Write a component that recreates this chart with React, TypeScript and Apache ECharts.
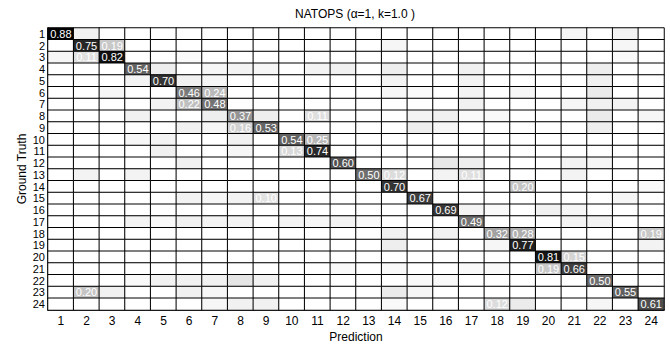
import React, { useEffect, useRef } from "react";
import * as echarts from "echarts";

const classLabels = ["1","2","3","4","5","6","7","8","9","10","11","12","13","14","15","16","17","18","19","20","21","22","23","24"];

// rows = ground truth, columns = prediction
const truthRows: number[][] = [
  //1    2    3    4    5    6    7    8    9    10   11   12   13   14   15   16   17   18   19   20   21   22   23   24
  [0.88,0.05,0,   0,   0,   0,   0,   0,   0,   0,   0,   0,   0,   0,   0,   0,   0,   0,   0,   0,   0.03,0,   0.04,0   ],
  [0,   0.75,0.19,0,   0,   0,   0,   0,   0,   0,   0,   0,   0,   0.03,0,   0,   0,   0,   0,   0,   0,   0,   0.03,0   ],
  [0.03,0.11,0.82,0,   0,   0.02,0,   0,   0,   0,   0,   0,   0,   0,   0,   0,   0,   0,   0,   0,   0,   0,   0.02,0   ],
  [0,   0,   0,   0.54,0.06,0,   0.03,0.04,0.03,0,   0.04,0.05,0,   0.06,0,   0,   0.05,0,   0,   0,   0,   0.06,0,   0   ],
  [0,   0,   0,   0.04,0.70,0.05,0.03,0,   0,   0,   0,   0,   0,   0.04,0,   0,   0.04,0,   0,   0,   0,   0.05,0,   0   ],
  [0,   0,   0.03,0,   0,   0.46,0.24,0,   0,   0,   0,   0,   0,   0.03,0.02,0,   0.04,0,   0.03,0,   0,   0.07,0,   0   ],
  [0,   0,   0,   0,   0.04,0.22,0.48,0,   0,   0,   0,   0,   0,   0,   0,   0,   0.05,0,   0,   0,   0.03,0.05,0.04,0   ],
  [0,   0,   0,   0.05,0,   0,   0.06,0.37,0.06,0,   0.11,0,   0,   0,   0.04,0.05,0.02,0.02,0,   0,   0,   0.07,0,   0.03],
  [0,   0,   0,   0,   0,   0.05,0.03,0.16,0.53,0,   0,   0,   0,   0,   0.06,0.03,0,   0,   0,   0,   0,   0.06,0,   0   ],
  [0,   0,   0,   0.03,0.04,0,   0,   0.05,0,   0.54,0.25,0,   0,   0,   0,   0,   0,   0,   0,   0,   0,   0,   0,   0   ],
  [0,   0,   0,   0,   0.05,0,   0,   0.03,0,   0.13,0.74,0,   0,   0,   0,   0,   0,   0,   0,   0,   0,   0,   0,   0   ],
  [0,   0,   0,   0,   0,   0.05,0,   0,   0,   0,   0,   0.60,0,   0,   0,   0.08,0.06,0,   0,   0,   0.04,0.03,0,   0   ],
  [0,   0.04,0,   0.04,0,   0,   0,   0,   0,   0,   0,   0,   0.50,0.12,0,   0.04,0.11,0,   0,   0,   0.04,0,   0,   0   ],
  [0,   0,   0,   0,   0,   0,   0,   0,   0,   0,   0,   0,   0,   0.70,0,   0,   0,   0,   0.20,0,   0,   0,   0,   0.02],
  [0,   0,   0,   0,   0,   0.04,0.03,0.04,0.10,0,   0,   0,   0,   0,   0.67,0,   0,   0,   0,   0,   0,   0,   0.03,0   ],
  [0,   0,   0,   0,   0,   0,   0,   0,   0,   0,   0,   0,   0,   0,   0,   0.69,0.04,0.02,0,   0.05,0.03,0,   0,   0   ],
  [0,   0,   0,   0.04,0.02,0.05,0.04,0.04,0,   0.04,0.03,0.04,0.02,0,   0,   0,   0.49,0,   0,   0,   0.04,0.04,0,   0   ],
  [0,   0,   0,   0,   0,   0,   0,   0,   0,   0,   0,   0,   0,   0.05,0,   0.05,0,   0.32,0.28,0,   0,   0,   0,   0.19],
  [0,   0,   0,   0,   0,   0,   0,   0,   0,   0,   0,   0,   0,   0.06,0,   0,   0,   0.03,0.77,0,   0,   0,   0,   0.04],
  [0,   0,   0,   0,   0,   0,   0,   0,   0,   0,   0,   0,   0,   0,   0,   0,   0,   0,   0,   0.81,0.15,0,   0,   0   ],
  [0,   0,   0,   0,   0,   0,   0,   0,   0,   0,   0,   0.02,0,   0.02,0,   0,   0.02,0.02,0,   0.19,0.66,0,   0,   0   ],
  [0,   0,   0,   0.02,0.05,0.05,0.05,0.09,0.05,0,   0,   0,   0,   0,   0.02,0.02,0,   0,   0,   0,   0,   0.50,0,   0   ],
  [0,   0.20,0.05,0,   0,   0.05,0.03,0,   0,   0,   0,   0,   0,   0.07,0.03,0,   0,   0,   0,   0,   0,   0,   0.55,0   ],
  [0,   0,   0,   0,   0,   0,   0.03,0.05,0.05,0,   0,   0,   0,   0.02,0,   0,   0,   0.12,0.07,0,   0,   0.03,0,   0.61],
];

const chartTitle = "NATOPS (\u03b1=1, k=1.0 )";
const xName = "Prediction";
const yName = "Ground Truth";
const FONT = "'Liberation Sans', Arial, Helvetica, sans-serif";

export default function App() {
  const ref = useRef<HTMLDivElement>(null);
  useEffect(() => {
    if (!ref.current) return;
    const chart = echarts.init(ref.current, undefined, { renderer: "svg" });
    const data: [number, number, number][] = [];
    truthRows.forEach((row, r) => row.forEach((v, c) => data.push([c, r, v])));
    chart.setOption({
      animation: false,
      backgroundColor: "#ffffff",
      textStyle: { fontFamily: FONT },
      graphic: [
        {
          type: "text",
          x: 355,
          y: 14,
          style: {
            text: chartTitle,
            fill: "#000",
            font: `12px ${FONT}`,
            textAlign: "center",
            textVerticalAlign: "middle",
          },
        },
      ],
      grid: { left: 48, right: 6, top: 28, bottom: 29 },
      xAxis: {
        type: "category",
        data: classLabels,
        position: "bottom",
        axisLine: { show: true, lineStyle: { color: "#000", width: 1.5 } },
        axisTick: { show: false },
        axisLabel: { color: "#000", fontSize: 12, margin: 5, fontFamily: FONT, interval: 0 },
        splitLine: { show: false },
        name: xName,
        nameLocation: "middle",
        nameGap: 21,
        nameMoveOverlap: false,
        nameTextStyle: { color: "#000", fontSize: 12, fontFamily: FONT },
      },
      yAxis: {
        type: "category",
        data: classLabels,
        inverse: true,
        axisLine: { show: true, lineStyle: { color: "#000", width: 1.5 } },
        axisTick: { show: false },
        axisLabel: {
          color: "#000",
          fontSize: 11,
          lineHeight: 11,
          margin: 3,
          fontFamily: FONT,
          interval: 0,
          hideOverlap: false,
        },
        splitLine: { show: false },
        name: yName,
        nameLocation: "middle",
        nameGap: 20,
        nameMoveOverlap: false,
        nameRotate: 90,
        nameTextStyle: { color: "#000", fontSize: 12, fontFamily: FONT },
      },
      visualMap: {
        show: false,
        min: 0,
        max: 0.88,
        inRange: { color: ["#ffffff", "#000000"] },
      },
      series: [
        {
          type: "heatmap",
          data,
          itemStyle: { borderColor: "#000", borderWidth: 1 },
          emphasis: { disabled: true },
          label: {
            show: true,
            color: "#fff",
            fontSize: 11,
            fontFamily: FONT,
            formatter: (p: any) => (p.value[2] >= 0.1 ? p.value[2].toFixed(2) : ""),
          },
        },
      ],
    });
    return () => chart.dispose();
  }, []);
  return (
    <div
      ref={ref}
      style={{ position: "fixed", left: 0, top: 0, width: 670, height: 348 }}
    />
  );
}
